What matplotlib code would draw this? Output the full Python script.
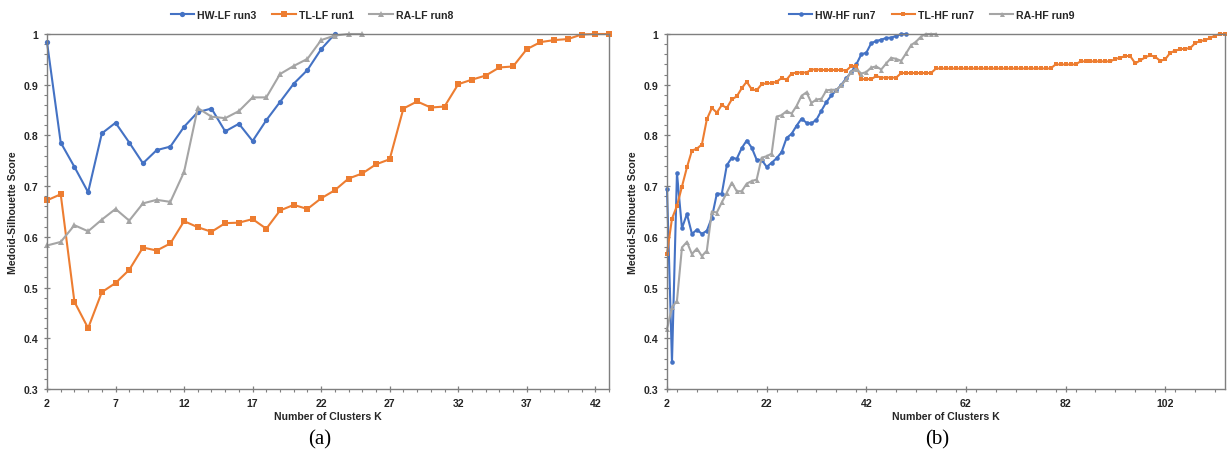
import matplotlib
matplotlib.use("Agg")
import matplotlib.pyplot as plt
from matplotlib.ticker import MultipleLocator, FixedLocator

plt.rcParams["font.family"] = ["Liberation Sans", "DejaVu Sans"]

BLUE = "#4472C4"
ORANGE = "#ED7D31"
GRAY = "#A5A5A5"
AXIS = "#7F7F7F"

# ---- panel (a): low-frequency runs ----
k_hw_lf = list(range(2, 24))
hw_lf_run3 = [0.984, 0.786, 0.738, 0.688, 0.804, 0.825, 0.786, 0.745, 0.771, 0.778,
              0.817, 0.846, 0.853, 0.808, 0.823, 0.789, 0.830, 0.866, 0.902, 0.929,
              0.970, 1.000]

k_tl_lf = list(range(2, 44))
tl_lf_run1 = [0.672, 0.684, 0.472, 0.420, 0.491, 0.509, 0.535, 0.579, 0.573, 0.587,
              0.631, 0.619, 0.610, 0.627, 0.628, 0.635, 0.616, 0.652, 0.663, 0.655,
              0.676, 0.692, 0.715, 0.725, 0.743, 0.753, 0.853, 0.867, 0.855, 0.857,
              0.901, 0.910, 0.918, 0.934, 0.936, 0.970, 0.984, 0.988, 0.990, 0.999,
              1.000, 1.000]

k_ra_lf = list(range(2, 26))
ra_lf_run8 = [0.583, 0.590, 0.623, 0.611, 0.634, 0.655, 0.632, 0.666, 0.673, 0.669,
              0.728, 0.854, 0.837, 0.834, 0.848, 0.875, 0.875, 0.921, 0.937, 0.951,
              0.988, 0.997, 1.000, 1.000]

# ---- panel (b): high-frequency runs ----
k_hw_hf = list(range(2, 51))
hw_hf_run7 = [0.695, 0.353, 0.726, 0.617, 0.645, 0.606, 0.614, 0.606, 0.612, 0.638,
              0.685, 0.685, 0.741, 0.756, 0.754, 0.775, 0.790, 0.776, 0.752, 0.752,
              0.738, 0.746, 0.755, 0.767, 0.795, 0.803, 0.819, 0.833, 0.825, 0.824,
              0.831, 0.849, 0.866, 0.879, 0.889, 0.900, 0.913, 0.925, 0.940, 0.960,
              0.963, 0.982, 0.986, 0.989, 0.992, 0.993, 0.996, 1.000, 1.000]

k_tl_hf = list(range(2, 115))
tl_hf_run7 = [0.567, 0.636, 0.661, 0.699, 0.737, 0.770, 0.774, 0.782, 0.832, 0.854,
              0.845, 0.860, 0.854, 0.871, 0.877, 0.893, 0.906, 0.891, 0.889, 0.901,
              0.903, 0.903, 0.906, 0.913, 0.910, 0.922, 0.924, 0.924, 0.924, 0.930,
              0.930, 0.929, 0.929, 0.929, 0.929, 0.929, 0.928, 0.937, 0.937, 0.911,
              0.911, 0.911, 0.917, 0.914, 0.914, 0.914, 0.914, 0.923, 0.923, 0.923,
              0.923, 0.923, 0.923, 0.923, 0.932, 0.932, 0.932, 0.932, 0.932, 0.932,
              0.932, 0.932, 0.932, 0.932, 0.932, 0.932, 0.932, 0.932, 0.932, 0.932,
              0.932, 0.932, 0.932, 0.932, 0.932, 0.932, 0.932, 0.932, 0.940, 0.940,
              0.940, 0.940, 0.940, 0.946, 0.946, 0.946, 0.946, 0.946, 0.946, 0.946,
              0.951, 0.953, 0.957, 0.956, 0.942, 0.948, 0.954, 0.958, 0.955, 0.947,
              0.950, 0.963, 0.967, 0.970, 0.971, 0.972, 0.982, 0.986, 0.988, 0.992,
              0.997, 1.000, 1.000]

k_ra_hf = list(range(2, 57))
ra_hf_run9 = [0.418, 0.461, 0.474, 0.579, 0.590, 0.566, 0.577, 0.562, 0.573, 0.650,
              0.648, 0.668, 0.687, 0.707, 0.690, 0.690, 0.705, 0.710, 0.713, 0.756,
              0.759, 0.764, 0.837, 0.840, 0.848, 0.843, 0.858, 0.878, 0.885, 0.864,
              0.871, 0.872, 0.889, 0.890, 0.890, 0.899, 0.911, 0.926, 0.931, 0.922,
              0.925, 0.934, 0.936, 0.930, 0.942, 0.953, 0.951, 0.947, 0.962, 0.978,
              0.985, 0.995, 1.000, 1.000, 1.000]

panels = [
    dict(series=[("HW-LF run3", k_hw_lf, hw_lf_run3, BLUE, "o", 3.8),
                 ("TL-LF run1", k_tl_lf, tl_lf_run1, ORANGE, "s", 4.2),
                 ("RA-LF run8", k_ra_lf, ra_lf_run8, GRAY, "^", 4.2)],
         xlim=(2, 43), major=[2, 7, 12, 17, 22, 27, 32, 37, 42], minor=1,
         rect=[47 / 1231, 1 - 390 / 460, 562 / 1231, 355 / 460],
         legend_x=312 / 1231, tag="(a)"),
    dict(series=[("HW-HF run7", k_hw_hf, hw_hf_run7, BLUE, "o", 3.3),
                 ("TL-HF run7", k_tl_hf, tl_hf_run7, ORANGE, "s", 3.3),
                 ("RA-HF run9", k_ra_hf, ra_hf_run9, GRAY, "^", 3.6)],
         xlim=(2, 114), major=[2, 22, 42, 62, 82, 102], minor=4,
         rect=[667 / 1231, 1 - 390 / 460, 558 / 1231, 355 / 460],
         legend_x=932 / 1231, tag="(b)"),
]

fig = plt.figure(figsize=(12.31, 4.60), dpi=100)
FS = 7.6
bold = dict(fontsize=FS, fontweight="bold", color="#262626")

for p in panels:
    ax = fig.add_axes(p["rect"])
    for label, ks, vals, col, mk, ms in p["series"]:
        ax.plot(ks, vals, color=col, lw=1.5, marker=mk, markersize=ms,
                markeredgewidth=0, label=label, clip_on=False)
    ax.set_xlim(*p["xlim"])
    ax.set_ylim(0.3, 1.0)
    ax.xaxis.set_major_locator(FixedLocator(p["major"]))
    ax.xaxis.set_minor_locator(MultipleLocator(p["minor"]))
    ax.yaxis.set_major_locator(MultipleLocator(0.1))
    ax.yaxis.set_minor_locator(MultipleLocator(0.02))
    ax.set_yticklabels([f"{v:g}" for v in ax.get_yticks()])
    for s in ax.spines.values():
        s.set_color(AXIS)
        s.set_linewidth(1.0)
    ax.tick_params(which="major", direction="inout", length=5, width=0.9,
                   color=AXIS, labelsize=FS, pad=4)
    ax.tick_params(which="minor", direction="out", length=2.5, width=0.8,
                   color=AXIS)
    for t in ax.get_xticklabels() + ax.get_yticklabels():
        t.set_fontweight("bold")
        t.set_color("#262626")
    ax.set_xlabel("Number of Clusters K", labelpad=2, **bold)
    ax.set_ylabel("Medoid-Silhouette Score", labelpad=4, **bold)
    leg = fig.legend(*ax.get_legend_handles_labels(), loc="center",
                     bbox_to_anchor=(p["legend_x"], 1 - 16 / 460), ncol=3,
                     frameon=False, handlelength=2.2, handletextpad=0.3,
                     columnspacing=1.5, prop=dict(size=FS, weight="bold"))
    for t in leg.get_texts():
        t.set_color("#262626")
    cx = p["rect"][0] + p["rect"][2] / 2
    fig.text(cx - 0.007, 1 - 440 / 460, p["tag"], ha="center", va="center",
             fontsize=15, family=["Liberation Serif", "DejaVu Serif"])

fig.savefig("out.png", dpi=100)
